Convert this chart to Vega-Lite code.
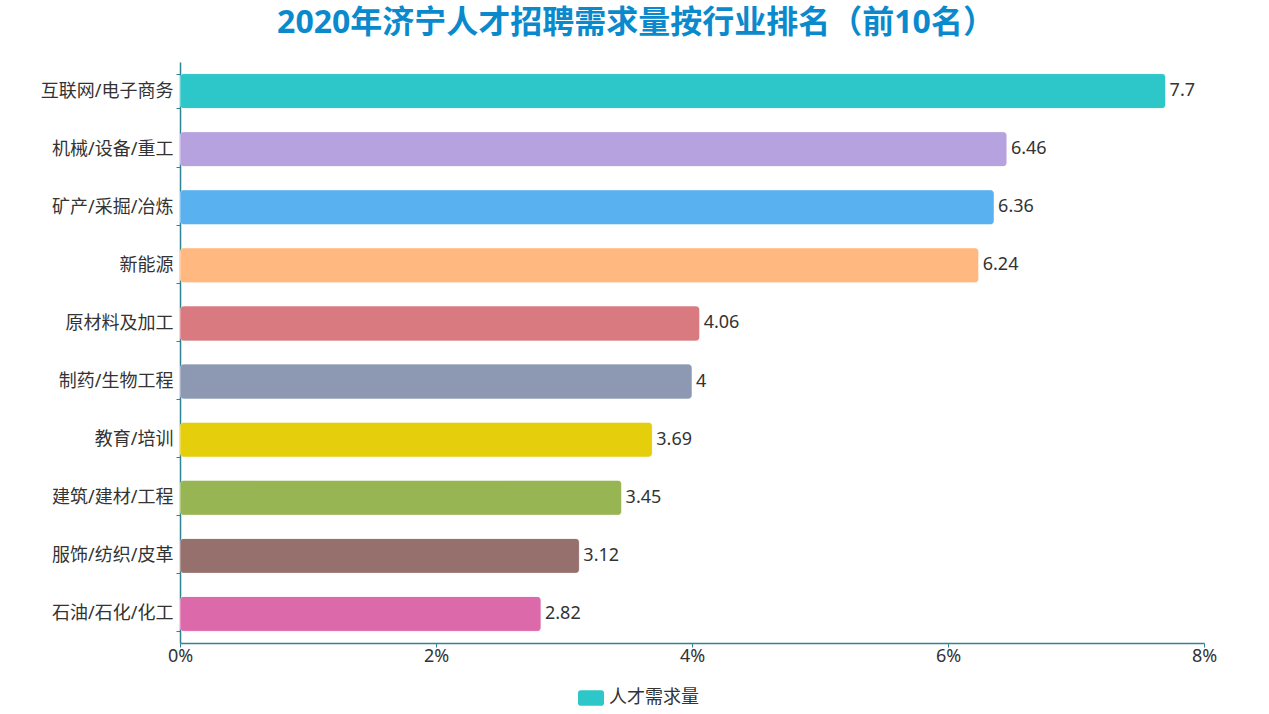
{"$schema":"https://vega.github.io/schema/vega-lite/v6.json","width":1024,"height":581,"autosize":{"type":"none"},"padding":{"left":180,"top":62,"right":65,"bottom":71},"background":"white","config":{"font":"Noto Sans, Noto Sans CJK SC","view":{"stroke":null}},"title":{"text":"2020年济宁人才招聘需求量按行业排名（前10名）","font":"Noto Sans, Noto Sans CJK SC","fontSize":32,"fontWeight":"bold","color":"#0A8ACD","anchor":"middle","dx":-56,"offset":13},"data":{"name":"bars","values":[{"行业":"互联网/电子商务","需求量":7.7},{"行业":"机械/设备/重工","需求量":6.46},{"行业":"矿产/采掘/冶炼","需求量":6.36},{"行业":"新能源","需求量":6.24},{"行业":"原材料及加工","需求量":4.06},{"行业":"制药/生物工程","需求量":4},{"行业":"教育/培训","需求量":3.69},{"行业":"建筑/建材/工程","需求量":3.45},{"行业":"服饰/纺织/皮革","需求量":3.12},{"行业":"石油/石化/化工","需求量":2.82}]},"encoding":{"y":{"field":"行业","type":"nominal","sort":null,"title":null,"scale":{"paddingInner":0.4,"paddingOuter":0.2},"axis":{"domainColor":"#2F8392","domainWidth":1.5,"tickColor":"#2F8392","tickSize":4,"tickBand":"extent","labelColor":"#333333","labelFontSize":18,"labelPadding":3,"labelFont":"Noto Sans, Noto Sans CJK SC","grid":false}},"x":{"field":"需求量","type":"quantitative","title":null,"scale":{"domain":[0,8],"nice":false},"axis":{"values":[0,2,4,6,8],"labelExpr":"datum.value + '%'","domainColor":"#2F8392","domainWidth":1.5,"tickColor":"#2F8392","tickSize":4,"labelColor":"#333333","labelFontSize":18,"labelPadding":0,"labelFlush":false,"grid":false}}},"layer":[{"mark":{"type":"bar","cornerRadius":4,"stroke":"#ffffff","strokeOpacity":0.3,"strokeWidth":1},"encoding":{"fill":{"field":"行业","type":"nominal","sort":null,"scale":{"range":["#2EC7C9","#B6A2DE","#5AB1EF","#FFB980","#D87A80","#8D98B3","#E5CF0D","#97B552","#95706D","#DC69AA"]},"legend":{"orient":"none","legendX":398,"legendY":623,"title":null,"values":["互联网/电子商务"],"labelExpr":"'人才需求量'","symbolType":"M-1,-0.4 A0.2,0.2 0 0 1 -0.8,-0.6 L0.8,-0.6 A0.2,0.2 0 0 1 1,-0.4 L1,0.4 A0.2,0.2 0 0 1 0.8,0.6 L-0.8,0.6 A0.2,0.2 0 0 1 -1,0.4 Z","symbolSize":676,"symbolStrokeWidth":0,"labelFontSize":18,"labelColor":"#333333","labelOffset":5,"padding":0}}}},{"mark":{"type":"text","align":"left","baseline":"middle","dx":4,"fontSize":18,"color":"#333333"},"encoding":{"text":{"field":"需求量","type":"quantitative"}}},{"data":{"values":[{"行业":"互联网/电子商务"}]},"mark":{"type":"point","filled":false,"clip":false,"stroke":"#F0843A","strokeWidth":1.6,"size":1764,"shape":"M-0.85,-0.3 A0.3,0.3 0 1 1 -0.25,-0.3 A0.3,0.3 0 1 1 -0.85,-0.3 Z M0.25,-0.3 A0.3,0.3 0 1 1 0.85,-0.3 A0.3,0.3 0 1 1 0.25,-0.3 Z M-0.62,-0.3 A0.08,0.14 0 1 1 -0.48,-0.3 A0.08,0.14 0 1 1 -0.62,-0.3 Z M0.48,-0.3 A0.08,0.14 0 1 1 0.62,-0.3 A0.08,0.14 0 1 1 0.48,-0.3 Z M-0.25,-0.42 Q0,-0.48 0.25,-0.42 M-0.68,0.12 Q0,0.5 0.68,0.12 M-0.88,-0.08 C-1.1,0.3 -0.8,0.55 -0.3,0.66 M0.88,-0.08 C1.1,0.3 0.8,0.55 0.3,0.66"},"encoding":{"x":{"datum":-1.0},"y":{"field":"行业","type":"nominal","sort":null},"yOffset":{"value":-65}}},{"data":{"values":[{"行业":"互联网/电子商务","标识":"齐鲁人才"}]},"mark":{"type":"text","clip":false,"align":"left","baseline":"middle","dy":-68,"fontSize":20,"fontWeight":"bold","color":"#55585A"},"encoding":{"x":{"datum":-0.81},"y":{"field":"行业","type":"nominal","sort":null},"text":{"field":"标识"}}},{"data":{"values":[{"行业":"互联网/电子商务","网址":"www.qlrc.com"}]},"mark":{"type":"text","clip":false,"align":"left","baseline":"middle","dy":-55,"fontSize":8,"fontWeight":"bold","letterSpacing":1.7,"color":"#55585A"},"encoding":{"x":{"datum":-0.81},"y":{"field":"行业","type":"nominal","sort":null},"text":{"field":"网址"}}}],"resolve":{"scale":{"fill":"independent"}}}
